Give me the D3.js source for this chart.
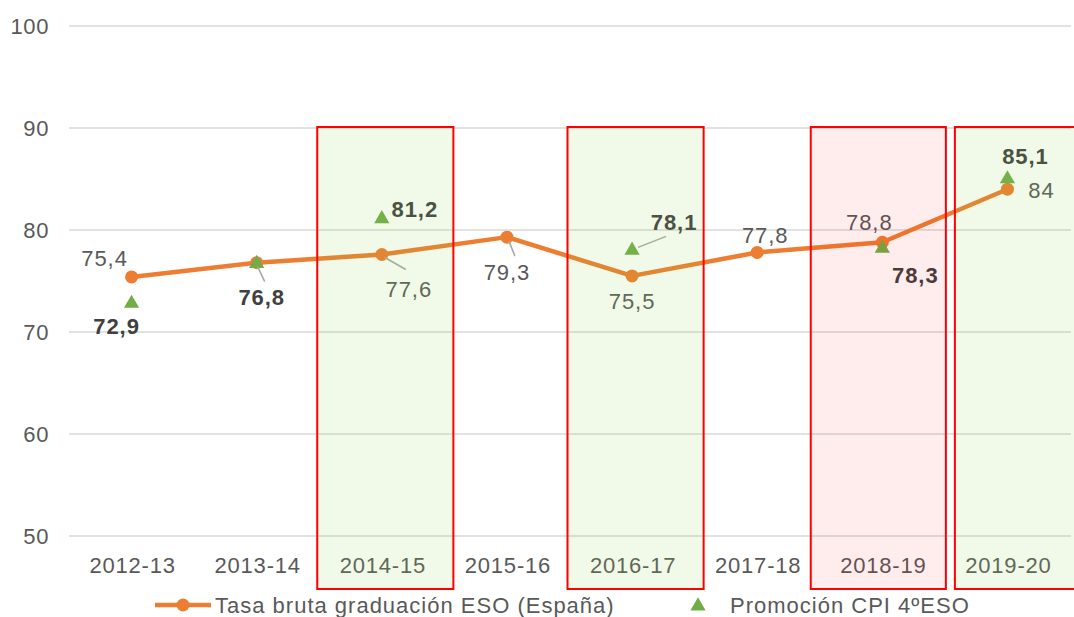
<!DOCTYPE html>
<html>
<head>
<meta charset="utf-8">
<script src="https://cdn.jsdelivr.net/npm/d3@7/dist/d3.min.js"></script>
<style>
  html, body { margin: 0; padding: 0; background: #fff; }
  svg text { font-family: "Liberation Sans", Arial, sans-serif; }
</style>
</head>
<body>
<div id="chart"></div>
<script>
(function() {
  // data
  var categories = ['2012-13', '2013-14', '2014-15', '2015-16', '2016-17', '2017-18', '2018-19', '2019-20'];
  var tasaValues = [75.4, 76.8, 77.6, 79.3, 75.5, 77.8, 78.8, 84];
  var promoValues = [72.9, 76.8, 81.2, null, 78.1, null, 78.3, 85.1];
  var yTicks = [50, 60, 70, 80, 90, 100];
  var highlightCats = ['2014-15', '2016-17', '2018-19', '2019-20'];
  var highlightKinds = ['good', 'good', 'bad', 'good'];
  var legendLabels = ['Tasa bruta graduación ESO (España)', 'Promoción CPI 4ºESO'];

  var width = 1074;
  var height = 617;
  var orange = '#ed7d31';
  var green = '#70ad47';
  var textColor = '#595959';

  // label placement (offsets from the point, in px)
  var tasaLabelPos = [[-27, -19], null, [27, 35], [0, 35], [0, 25], [8, -17], [-13, -20], [34, 1]];
  var promoLabelPos = [[-15, 24], [5, 35], [33, -8], null, [42, -27], null, [33, 28], [18, -22]];
  // leader lines [x1, y1, x2, y2] as offsets from the point
  var tasaLeaders = [null, null, [3, 3, 24, 15], [2, 4, 8, 19], null, null, null, null];
  var promoLeaders = [null, [1, 4, 8, 19], null, null, [6, -2, 34, -13], null, null, null];
  // box edges relative to the band
  var boxPad = { '2014-15': [-2, 9], '2016-17': [-2, 9], '2018-19': [-9, 1], '2019-20': [10, 10] };

  var svg = d3.select('#chart').append('svg')
    .attr('width', width)
    .attr('height', height);

  var x = d3.scaleBand().domain(categories).range([69, 1070]);
  var y = d3.scaleLinear().domain([50, 100]).range([536, 26]);
  var cx = function(c) { return x(c) + x.bandwidth() / 2; };

  // grid
  svg.append('g').selectAll('line')
    .data(yTicks)
    .enter().append('line')
    .attr('x1', 69).attr('x2', 1071)
    .attr('y1', function(d) { return y(d); })
    .attr('y2', function(d) { return y(d); })
    .attr('stroke', '#d9d9d9')
    .attr('stroke-width', 1.5);

  svg.append('g').selectAll('text')
    .data(yTicks)
    .enter().append('text')
    .attr('x', 49)
    .attr('y', function(d) { return y(d); })
    .attr('dy', '0.35em')
    .attr('text-anchor', 'end')
    .attr('font-size', 22)
    .attr('letter-spacing', 0.6)
    .attr('fill', textColor)
    .text(function(d) { return d; });

  svg.append('g').selectAll('text')
    .data(categories)
    .enter().append('text')
    .attr('x', function(d) { return cx(d) + 1; })
    .attr('y', 565)
    .attr('dy', '0.35em')
    .attr('text-anchor', 'middle')
    .attr('font-size', 22)
    .attr('letter-spacing', 0.8)
    .attr('fill', textColor)
    .text(function(d) { return d; });

  // series line
  var line = d3.line()
    .x(function(d, i) { return cx(categories[i]); })
    .y(function(d) { return y(d); });

  svg.append('path')
    .datum(tasaValues)
    .attr('d', line)
    .attr('fill', 'none')
    .attr('stroke', orange)
    .attr('stroke-width', 4.5)
    .attr('stroke-linejoin', 'round');

  svg.append('g').selectAll('circle')
    .data(tasaValues)
    .enter().append('circle')
    .attr('cx', function(d, i) { return cx(categories[i]); })
    .attr('cy', function(d) { return y(d); })
    .attr('r', 6.5)
    .attr('fill', orange);

  var tri = d3.symbol().type(d3.symbolTriangle).size(100);
  var promoPoints = promoValues.map(function(v, i) { return { v: v, i: i }; })
    .filter(function(d) { return d.v !== null; });

  svg.append('g').selectAll('path')
    .data(promoPoints)
    .enter().append('path')
    .attr('d', tri)
    .attr('transform', function(d) { return 'translate(' + cx(categories[d.i]) + ',' + (y(d.v) + 1) + ')'; })
    .attr('fill', green);

  // leader lines
  function drawLeaders(values, leaders) {
    values.forEach(function(v, i) {
      var l = leaders[i];
      if (v === null || !l) return;
      var px = cx(categories[i]), py = y(v);
      svg.append('line')
        .attr('x1', px + l[0]).attr('y1', py + l[1])
        .attr('x2', px + l[2]).attr('y2', py + l[3])
        .attr('stroke', '#a6a6a6')
        .attr('stroke-width', 1.5);
    });
  }
  drawLeaders(tasaValues, tasaLeaders);
  drawLeaders(promoValues, promoLeaders);

  // value labels
  function drawLabels(values, pos, bold) {
    values.forEach(function(v, i) {
      var p = pos[i];
      if (v === null || !p) return;
      svg.append('text')
        .attr('x', cx(categories[i]) + p[0])
        .attr('y', y(v) + p[1])
        .attr('dy', '0.35em')
        .attr('text-anchor', 'middle')
        .attr('font-size', 22)
        .attr('letter-spacing', 0.9)
        .attr('font-weight', bold ? 'bold' : 'normal')
        .attr('fill', bold ? '#404040' : textColor)
        .text(String(v).replace('.', ','));
    });
  }
  drawLabels(tasaValues, tasaLabelPos, false);
  drawLabels(promoValues, promoLabelPos, true);

  // highlight boxes, tinted overlay on top
  svg.append('g').selectAll('rect')
    .data(highlightCats)
    .enter().append('rect')
    .attr('x', function(d) { return x(d) + boxPad[d][0]; })
    .attr('y', y(90) - 1)
    .attr('width', function(d) { return x.bandwidth() - boxPad[d][0] + boxPad[d][1]; })
    .attr('height', 589 - y(90) + 1)
    .attr('fill', function(d, i) { return highlightKinds[i] === 'good' ? '#92d050' : '#ff0000'; })
    .attr('fill-opacity', function(d, i) { return highlightKinds[i] === 'good' ? 0.13 : 0.07; })
    .attr('stroke', '#ff0000')
    .attr('stroke-width', 2);

  // legend
  var legend = svg.append('g');
  legend.append('line')
    .attr('x1', 155).attr('x2', 211)
    .attr('y1', 605).attr('y2', 605)
    .attr('stroke', orange)
    .attr('stroke-width', 4.5);
  legend.append('circle')
    .attr('cx', 183).attr('cy', 605).attr('r', 6.5)
    .attr('fill', orange);
  legend.append('text')
    .attr('x', 215).attr('y', 605).attr('dy', '0.35em')
    .attr('font-size', 22)
    .attr('letter-spacing', 1)
    .attr('fill', textColor)
    .text(legendLabels[0]);
  legend.append('path')
    .attr('d', tri)
    .attr('transform', 'translate(698,606)')
    .attr('fill', green);
  legend.append('text')
    .attr('x', 730).attr('y', 605).attr('dy', '0.35em')
    .attr('font-size', 22)
    .attr('letter-spacing', 1)
    .attr('fill', textColor)
    .text(legendLabels[1]);
}).call(this);
</script>
</body>
</html>
